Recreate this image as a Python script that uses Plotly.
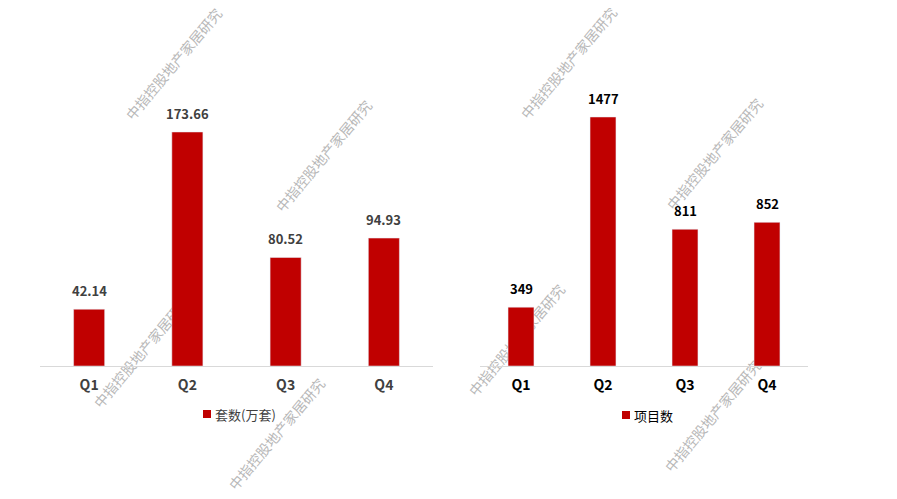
import plotly.graph_objects as go

quarters = ["Q1", "Q2", "Q3", "Q4"]
units_wan = [42.14, 173.66, 80.52, 94.93]
projects = [349, 1477, 811, 852]
name_left = "套数(万套)"
name_right = "项目数"
watermark_text = "中指控股地产家居研究"
# watermark centres in page pixels
wm_centres = [(175, 65), (325, 157), (143, 353), (278, 435),
              (570, 64), (716, 155), (518, 341), (714, 417)]

W, H = 897, 499
OFF = 8  # page body margin
RED = "#C00000"
FONT = "Noto Sans CJK SC, Microsoft YaHei, sans-serif"


def px(x):
    return (x - OFF) / W


def py(y):
    return 1 - (y - OFF) / H


fig = go.Figure()
fig.add_trace(go.Bar(x=quarters, y=units_wan, name=name_left, marker_color=RED,
                     xaxis="x", yaxis="y", showlegend=False))
fig.add_trace(go.Bar(x=quarters, y=projects, name=name_right, marker_color=RED,
                     xaxis="x2", yaxis="y2", showlegend=False))

ann = []
for q, v in zip(quarters, units_wan):
    ann.append(dict(x=q, y=v, xref="x", yref="y", text=f"<b>{v:.2f}</b>", showarrow=False,
                    yanchor="bottom", yshift=7, font=dict(size=13, color="#404040", family=FONT)))
for q, v in zip(quarters, projects):
    ann.append(dict(x=q, y=v, xref="x2", yref="y2", text=f"<b>{v}</b>", showarrow=False,
                    yanchor="bottom", yshift=7, font=dict(size=13, color="#000000", family=FONT)))

shapes = []
for cx, cy in wm_centres:
    x, y = px(cx), py(cy)
    shapes.append(dict(type="rect", xref="paper", yref="paper", layer="below",
                       x0=x - 0.001, x1=x + 0.001, y0=y - 0.001, y1=y + 0.001,
                       line=dict(width=0, color="rgba(0,0,0,0)"), fillcolor="rgba(0,0,0,0)",
                       label=dict(text=watermark_text, textangle=-50, textposition="middle center",
                                  font=dict(size=14, color="#B8B8B8", family=FONT))))

# manual legends (square swatch + label)
legend_items = [(name_left, 203, 414, "#404040"), (name_right, 622, 415, "#000000")]
for name, sx, sy, col in legend_items:
    shapes.append(dict(type="rect", xref="paper", yref="paper",
                       x0=px(sx), x1=px(sx + 8), y0=py(sy + 4), y1=py(sy - 4),
                       line=dict(width=0), fillcolor=RED))
    ann.append(dict(x=px(sx + 10), y=py(sy), xref="paper", yref="paper", text=name,
                    showarrow=False, xanchor="left", yanchor="middle",
                    font=dict(size=13, color=col, family=FONT)))

y_bottom = py(366)
y_top = py(40)
plot_h = 326
left_max = plot_h / (234 / 173.66)
right_max = plot_h / (249 / 1477)

axis_common = dict(showline=True, linecolor="#D9D9D9", linewidth=1, ticks="",
                   showgrid=False, zeroline=False, ticklabelstandoff=6)

fig.update_layout(
    width=W, height=H,
    margin=dict(l=0, r=0, t=0, b=0),
    paper_bgcolor="white", plot_bgcolor="white",
    bargap=0.684,
    font=dict(family=FONT),
    xaxis=dict(domain=[px(40), px(433)], anchor="y",
               tickfont=dict(size=14, color="#404040", family=FONT),
               tickvals=quarters, ticktext=[f"<b>{q}</b>" for q in quarters], **axis_common),
    xaxis2=dict(domain=[px(480), px(808)], anchor="y2",
                tickfont=dict(size=14, color="#000000", family=FONT),
                tickvals=quarters, ticktext=[f"<b>{q}</b>" for q in quarters], **axis_common),
    yaxis=dict(domain=[y_bottom, y_top], range=[0, left_max], visible=False),
    yaxis2=dict(domain=[y_bottom, y_top], range=[0, right_max], visible=False, anchor="x2"),
    annotations=ann,
    shapes=shapes,
    showlegend=False,
)

fig.write_html("out.html")
